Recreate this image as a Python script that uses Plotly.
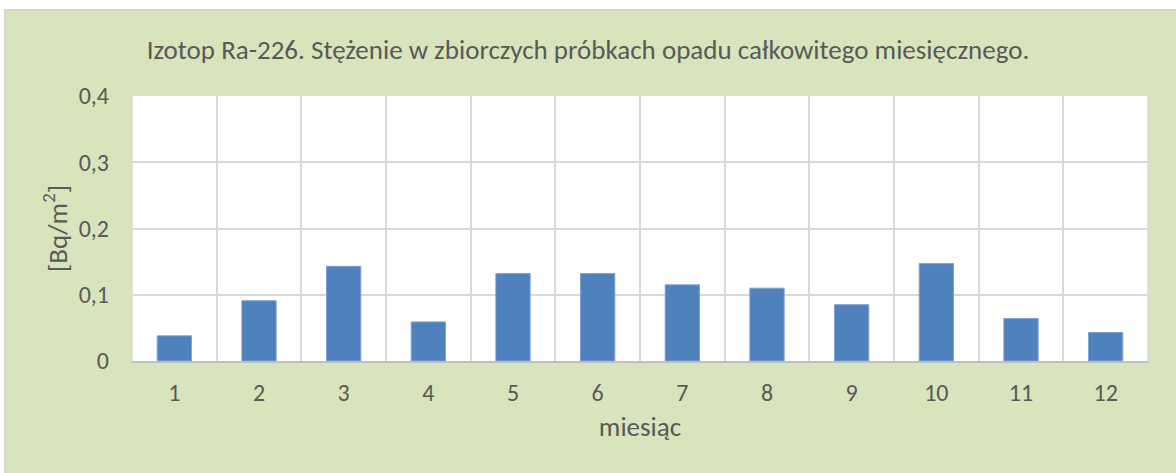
import plotly.graph_objects as go

# Monthly Ra-226 concentration in bulk total-deposition samples
months = ["1", "2", "3", "4", "5", "6", "7", "8", "9", "10", "11", "12"]
ra226 = [0.038, 0.091, 0.143, 0.059, 0.132, 0.132, 0.115, 0.110, 0.085, 0.147, 0.064, 0.043]
y_ticks = [0, 0.1, 0.2, 0.3, 0.4]
y_tick_text = ["0", "0,1", "0,2", "0,3", "0,4"]

title_text = "Izotop Ra-226. Stężenie w zbiorczych próbkach opadu całkowitego miesięcznego."
x_title = "miesiąc"
y_title = "[Bq/m<sup>2</sup>]"

W, H = 1176, 473
ML, MR, MT, MB = 132, 28, 96, 112
PW, PH = W - ML - MR, H - MT - MB

FONT = "Calibri, Carlito, Lato, sans-serif"
TEXT = "#595959"
GRID = "#D9D9D9"
BG = "#D8E4BC"


def px_x(p):
    return (p - ML) / PW


def px_y(p):
    return (H - MB - p) / PH


fig = go.Figure(
    go.Bar(
        x=months,
        y=ra226,
        marker=dict(color="#4F81BD", line=dict(color="#7EA1D3", width=1)),
        hoverinfo="x+y",
    )
)

fig.update_layout(
    width=W,
    height=H,
    margin=dict(l=ML, r=MR, t=MT, b=MB),
    paper_bgcolor="white",
    plot_bgcolor="white",
    bargap=0.595,
    showlegend=False,
    font=dict(family=FONT, color=TEXT),
    title=dict(
        text=title_text,
        x=0.5,
        xanchor="center",
        y=1 - 50 / H,
        yanchor="middle",
        font=dict(size=27, color=TEXT, family=FONT),
    ),
    shapes=[
        # chart area fill with thin frame
        dict(
            type="rect", xref="paper", yref="paper", layer="below",
            x0=px_x(5), x1=px_x(W + 5), y0=px_y(H + 5), y1=px_y(10),
            fillcolor=BG, line=dict(color="#D4D4D4", width=2),
        ),
        # plot area
        dict(
            type="rect", xref="paper", yref="paper", layer="below",
            x0=0, x1=1, y0=0, y1=1,
            fillcolor="white", line=dict(width=0),
        ),
    ],
)

fig.update_xaxes(
    type="category",
    tickson="boundaries",
    showgrid=True,
    gridcolor=GRID,
    gridwidth=1.5,
    showline=True,
    linecolor="#BFBFBF",
    linewidth=1.5,
    mirror=False,
    ticks="",
    tickfont=dict(size=24, color=TEXT, family=FONT),
    ticklabelstandoff=9,
    title=dict(text=x_title, font=dict(size=27, color=TEXT, family=FONT), standoff=12),
    range=[-0.5, 11.5],
    fixedrange=True,
)

fig.update_yaxes(
    range=[0, 0.4],
    tickvals=y_ticks,
    ticktext=y_tick_text,
    showgrid=True,
    gridcolor=GRID,
    gridwidth=1.5,
    zeroline=False,
    showline=False,
    ticks="",
    tickfont=dict(size=24, color=TEXT, family=FONT),
    ticklabelstandoff=22,
    title=dict(text=y_title, font=dict(size=27, color=TEXT, family=FONT), standoff=3),
    fixedrange=True,
)

# left and right borders of the plot area
fig.add_shape(
    type="line", xref="paper", yref="paper", x0=1, x1=1, y0=0, y1=1,
    line=dict(color=GRID, width=1.5),
)
fig.add_shape(
    type="line", xref="paper", yref="paper", x0=0, x1=0, y0=0, y1=1,
    line=dict(color=GRID, width=1.5),
)

fig.write_html("out.html")
